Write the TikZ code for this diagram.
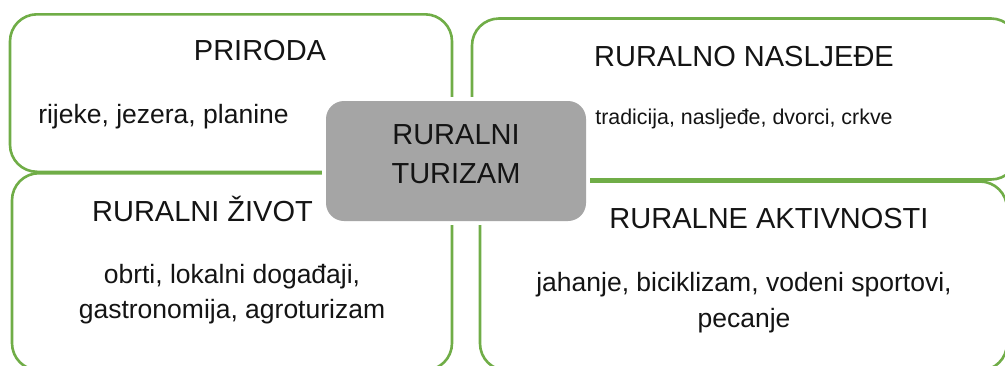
\documentclass[tikz,border=0pt]{standalone}
\usepackage{fontspec}
\setmainfont{Liberation Sans}
\tikzset{
  panel/.style={draw=panelgreen, line width=2.6pt, rounded corners=27pt, fill=white, inner sep=0pt, outer sep=0pt, anchor=north west},
  hub/.style={fill=hubgrey, rounded corners=18pt, inner sep=0pt, outer sep=0pt, anchor=north west, minimum width=260pt, minimum height=120pt},
  halo/.style={fill=white, inner sep=0pt, outer sep=0pt, anchor=north west, minimum width=268pt, minimum height=128pt},
  lbl/.style={anchor=base, inner sep=0pt, outer sep=0pt, text=black!92},
  head/.style={lbl, font=\fontsize{29}{29}\selectfont},
  body/.style={lbl, font=\fontsize{26.5}{26.5}\selectfont},
  small/.style={lbl, font=\fontsize{21.4}{21.4}\selectfont}
}
\definecolor{panelgreen}{HTML}{70AD47}
\definecolor{hubgrey}{HTML}{A5A5A5}
\begin{document}
\begin{tikzpicture}[x=1pt,y=-1pt]
\useasboundingbox (0,0) rectangle (1005,365);
\clip (0,0) rectangle (1005,365);
\node[panel, minimum width=442pt, minimum height=157.5pt] (tl) at (10,14.3) {};
\node[panel, minimum width=440pt, minimum height=197pt] (bl) at (12,173.2) {};
\node[panel, minimum width=546pt, minimum height=161pt] (tr) at (472,18.5) {};
\node[panel, minimum width=527pt, minimum height=189pt] (br) at (480,181.5) {};
\node[halo] (gap) at (322,97) {};
\node[hub] (c) at (326,101) {};
\node[head] (t1) at (260,60.7) {PRIRODA};
\node[body] (b1) at (163.5,123.7) {rijeke, jezera, planine};
\node[head] (t2) at (744,66.7) {RURALNO NASLJEĐE};
\node[small] (b2) at (744,124.5) {tradicija, nasljeđe, dvorci, crkve};
\node[head] (t3) at (202.5,221.4) {RURALNI ŽIVOT};
\node[body] (b3a) at (232,283.7) {obrti, lokalni događaji,};
\node[body] (b3b) at (232,318.7) {gastronomija, agroturizam};
\node[head] (t4) at (769,228.7) {RURALNE AKTIVNOSTI};
\node[body] (b4a) at (744,291.7) {jahanje, biciklizam, vodeni sportovi,};
\node[body] (b4b) at (744,327.2) {pecanje};
\node[head] (c1) at (456,144.7) {RURALNI};
\node[head] (c2) at (456,183.4) {TURIZAM};
\end{tikzpicture}
\end{document}
